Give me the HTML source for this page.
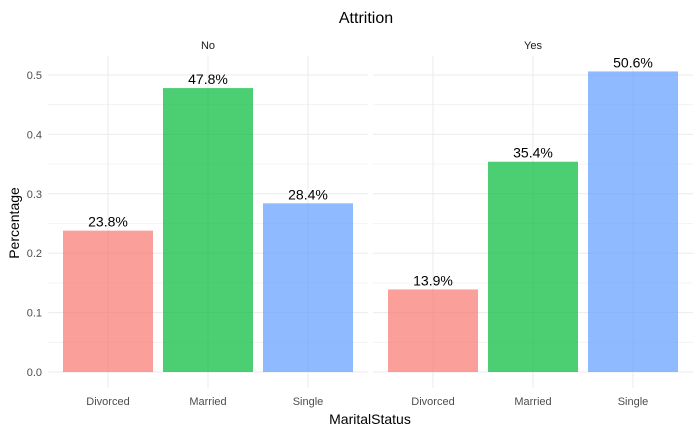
<!DOCTYPE html>
<html><head><meta charset="utf-8"><style>
body{margin:0;background:#fff;}
svg text{font-family:"Liberation Sans",Arial,sans-serif;}
</style></head><body>
<svg id="chart" width="700" height="432">
<text x="366" y="23" font-size="16" text-anchor="middle" fill="#000">Attrition</text>
<text x="370" y="424" font-size="14" text-anchor="middle" fill="#000">MaritalStatus</text>
<text transform="translate(19,223) rotate(-90)" font-size="14" text-anchor="middle" fill="#000">Percentage</text>
<g id="plot"></g>
</svg>
<script>
const categories=["Divorced","Married","Single"];
const panels=["No","Yes"];
const valuesNo=[0.238,0.478,0.284];
const valuesYes=[0.139,0.354,0.506];
const labelsNo=["23.8%","47.8%","28.4%"];
const labelsYes=["13.9%","35.4%","50.6%"];
const yTicks=[0,0.1,0.2,0.3,0.4,0.5];
const yTickLabels=["0.0","0.1","0.2","0.3","0.4","0.5"];
const colors=["#F8766D","#00BA38","#619CFF"];

const ns="http://www.w3.org/2000/svg";
const g=document.getElementById("plot");
const y0=372, yTop=56, yBot=388;
function y(v){return y0-v*594;}
const panelLeft=[48,373], bandW=100;
function x(p,i){return panelLeft[p]+bandW*(0.6+i)-bandW/2+bandW/2-0+0;}
function cx(p,i){return panelLeft[p]+bandW*(0.1+i)+bandW/2-0;}
function mk(tag,attrs){const e=document.createElementNS(ns,tag);for(const k in attrs)e.setAttribute(k,attrs[k]);g.appendChild(e);return e;}
const allVals=[valuesNo,valuesYes], allLabs=[labelsNo,labelsYes];
panels.forEach((pn,p)=>{
  const L=panelLeft[p], R=L+320;
  // minor grid
  for(let k=0;k<yTicks.length;k++){
    const v=yTicks[k]+0.05;
    if(y(v)>yTop){const ln=mk("line",{x1:L,x2:R,y1:y(v),y2:y(v),stroke:"#f0f0f0","stroke-width":0.8});
    
    }
  }
  yTicks.forEach(v=>{const ln=mk("line",{x1:L,x2:R,y1:y(v),y2:y(v),stroke:"#ebebeb","stroke-width":1});
    
    });
  categories.forEach((c,i)=>{const ln=mk("line",{x1:cx(p,i),x2:cx(p,i),y1:yTop,y2:yBot,stroke:"#ebebeb","stroke-width":1});
    
    });
  const st=mk("text",{x:L+160,y:49,"font-size":11,"text-anchor":"middle",fill:"#1a1a1a"});
  st.textContent=pn;
  
  
  categories.forEach((c,i)=>{
    const v=allVals[p][i];
    const r=mk("rect",{x:cx(p,i)-45,y:y(v),width:90,height:y0-y(v),fill:colors[i],"fill-opacity":0.7});
    
    
    const t=mk("text",{x:cx(p,i),y:y(v)-4,"font-size":14,"text-anchor":"middle",fill:"#000"});
    t.textContent=allLabs[p][i];
    
    
    const tl=mk("text",{x:cx(p,i),y:405,"font-size":11,"text-anchor":"middle",fill:"#4d4d4d"});
    tl.textContent=c;
    
    
  });
});
yTicks.forEach((v,k)=>{const t=mk("text",{x:42,y:y(v)+4,"font-size":11,"text-anchor":"end",fill:"#4d4d4d"});
  t.textContent=yTickLabels[k];
  
  });
</script>
</body></html>
